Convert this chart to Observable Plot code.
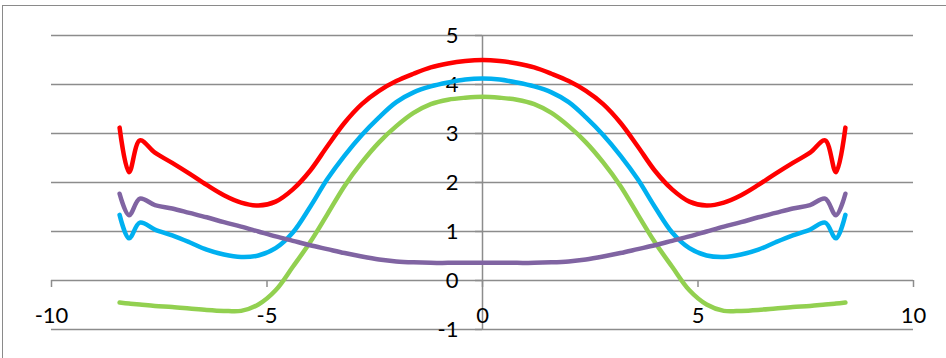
<!DOCTYPE html>
<html><head><meta charset="utf-8">
<script src="https://cdn.jsdelivr.net/npm/d3@7"></script>
<script src="https://cdn.jsdelivr.net/npm/@observablehq/plot@0.6"></script>
<style>
body{margin:0;background:#fff;}
#wrap{position:relative;width:946px;height:358px;overflow:hidden;background:#fff;}
#border{position:absolute;left:2px;top:5px;width:1000px;height:400px;border-left:1.5px solid #8a8a8a;border-top:1.5px solid #8a8a8a;}
#wrap svg{position:absolute;left:0;top:0;}
</style></head><body><div id="wrap"><div id="border"></div></div>
<script>
const xs = [-8.42, -8.2, -7.95, -7.6, -7.2, -6.8, -6.4, -6.0, -5.6, -5.2, -4.8, -4.4, -4.0, -3.6, -3.2, -2.8, -2.4, -2.0, -1.6, -1.2, -0.8, -0.4, 0, 0.4, 0.8, 1.2, 1.6, 2.0, 2.4, 2.8, 3.2, 3.6, 4.0, 4.4, 4.8, 5.2, 5.6, 6.0, 6.4, 6.8, 7.2, 7.6, 7.95, 8.2, 8.42];
const redValues = [3.12, 2.21, 2.86, 2.61, 2.40, 2.18, 1.95, 1.74, 1.59, 1.53, 1.61, 1.86, 2.24, 2.74, 3.22, 3.60, 3.87, 4.07, 4.22, 4.35, 4.43, 4.48, 4.50, 4.48, 4.43, 4.35, 4.22, 4.07, 3.87, 3.60, 3.22, 2.74, 2.24, 1.86, 1.61, 1.53, 1.59, 1.74, 1.95, 2.18, 2.40, 2.61, 2.86, 2.21, 3.12];
const blueValues = [1.34, 0.86, 1.18, 1.04, 0.92, 0.78, 0.63, 0.53, 0.48, 0.51, 0.66, 0.98, 1.50, 2.07, 2.55, 2.97, 3.33, 3.64, 3.84, 3.96, 4.04, 4.10, 4.12, 4.10, 4.04, 3.96, 3.84, 3.64, 3.33, 2.97, 2.55, 2.07, 1.50, 0.98, 0.66, 0.51, 0.48, 0.53, 0.63, 0.78, 0.92, 1.04, 1.18, 0.86, 1.34];
const greenValues = [-0.45, -0.47, -0.49, -0.52, -0.54, -0.57, -0.60, -0.62, -0.62, -0.49, -0.20, 0.28, 0.78, 1.35, 1.93, 2.41, 2.82, 3.15, 3.42, 3.60, 3.69, 3.73, 3.75, 3.73, 3.69, 3.60, 3.42, 3.15, 2.82, 2.41, 1.93, 1.35, 0.78, 0.28, -0.20, -0.49, -0.62, -0.62, -0.60, -0.57, -0.54, -0.52, -0.49, -0.47, -0.45];
const purpleValues = [1.77, 1.33, 1.67, 1.54, 1.47, 1.38, 1.29, 1.19, 1.10, 1.00, 0.90, 0.81, 0.72, 0.64, 0.56, 0.49, 0.43, 0.39, 0.37, 0.36, 0.36, 0.36, 0.36, 0.36, 0.36, 0.36, 0.37, 0.39, 0.43, 0.49, 0.56, 0.64, 0.72, 0.81, 0.90, 1.00, 1.10, 1.19, 1.29, 1.38, 1.47, 1.54, 1.67, 1.33, 1.77];
const xTicks = [-10, -5, 0, 5, 10];
const yTicks = [-1, 0, 1, 2, 3, 4, 5];

const seriesList = [
  {name: "red", values: redValues, color: "#ff0000"},
  {name: "blue", values: blueValues, color: "#00b0f0"},
  {name: "green", values: greenValues, color: "#92d050"},
  {name: "purple", values: purpleValues, color: "#8064a2"}
];
const toPoints = (vals) => xs.map((x, i) => ({x, y: vals[i]}));

const grid = "#8c8c8c";
const chart = Plot.plot({
  width: 946,
  height: 358,
  marginLeft: 51,
  marginRight: 33,
  marginTop: 35,
  marginBottom: 29,
  x: {domain: [-10, 10], axis: null},
  y: {domain: [-1, 5], axis: null},
  style: {fontFamily: "Lato, 'Open Sans', sans-serif", fontSize: "22px", background: "transparent", overflow: "visible"},
  marks: [
    Plot.ruleY(yTicks, {y: d => d, stroke: grid, strokeWidth: 1.5}),
    Plot.ruleX([0], {x: d => d, y1: -1, y2: 5, stroke: grid, strokeWidth: 1.5}),
    Plot.ruleX(xTicks, {x: d => d, y1: 0, y2: 0, insetBottom: -7, stroke: grid, strokeWidth: 1.5}),
    Plot.ruleY(yTicks, {y: d => d, x1: 0, x2: 0, insetLeft: -7, stroke: grid, strokeWidth: 1.5}),
    Plot.text(yTicks, {x: 0, y: d => d, text: d => String(d), textAnchor: "end", dx: -24, fill: "#000"}),
    Plot.text(xTicks, {x: d => d, y: 0, text: d => String(d), dy: 35, fill: "#000"}),
    ...seriesList.map(s => Plot.line(toPoints(s.values), {
      x: "x", y: "y", stroke: s.color, strokeWidth: 4.5, curve: "catmull-rom",
      strokeLinecap: "round", strokeLinejoin: "round"
    }))
  ]
});
document.getElementById("wrap").appendChild(chart);
</script>
</body></html>
